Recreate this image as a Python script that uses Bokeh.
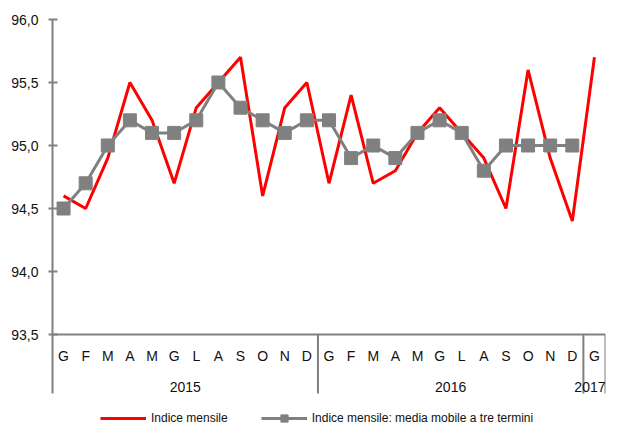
from bokeh.plotting import figure
from bokeh.models import Range1d, FixedTicker, Legend, LegendItem, ColumnDataSource
from bokeh.embed import file_html
from bokeh.resources import INLINE
from bokeh.core.properties import value

# ---- data ----
months = ["G", "F", "M", "A", "M", "G", "L", "A", "S", "O", "N", "D",
          "G", "F", "M", "A", "M", "G", "L", "A", "S", "O", "N", "D",
          "G"]
years = ["2015", "2016", "2017"]
year_counts = [12, 12, 1]
indice_mensile = [94.6, 94.5, 94.9, 95.5, 95.2, 94.7, 95.3, 95.5, 95.7, 94.6, 95.3, 95.5,
                  94.7, 95.4, 94.7, 94.8, 95.1, 95.3, 95.1, 94.9, 94.5, 95.6, 94.9, 94.4,
                  95.7]
media_mobile = [94.5, 94.7, 95.0, 95.2, 95.1, 95.1, 95.2, 95.5, 95.3, 95.2, 95.1, 95.2,
                95.2, 94.9, 95.0, 94.9, 95.1, 95.2, 95.1, 94.8, 95.0, 95.0, 95.0, 95.0]
y_ticks = [93.5, 94.0, 94.5, 95.0, 95.5, 96.0]
y_tick_labels = ["93,5", "94,0", "94,5", "95,0", "95,5", "96,0"]

# ---- layout constants (pixels) ----
W, H = 606, 427
LEFT, RIGHT = 52, 1
TOP = 19
K = 126.0           # pixels per unit on y
Y_MAX = 96.0
FONT = "Liberation Sans"
GRAY = "#808080"
TXT = "#111111"


def py2v(py):
    return Y_MAX - (py - TOP) / K


y_min = py2v(H)
axis_bottom = py2v(393)
month_y = py2v(355)
year_y = py2v(386)

n = len(months)
p = figure(width=W, height=H, output_backend="svg", toolbar_location=None,
           x_range=Range1d(0, n), y_range=Range1d(y_min, Y_MAX),
           min_border_left=LEFT, min_border_right=RIGHT,
           min_border_top=TOP, min_border_bottom=0,
           x_axis_location=None)
p.outline_line_color = None
p.grid.visible = False
p.background_fill_color = "white"
p.border_fill_color = "white"

ax = p.yaxis[0]
ax.ticker = FixedTicker(ticks=y_ticks)
ax.major_label_overrides = {t: l for t, l in zip(y_ticks, y_tick_labels)}
ax.bounds = (axis_bottom, Y_MAX)
ax.axis_line_color = GRAY
ax.axis_line_width = 2
ax.major_tick_line_color = GRAY
ax.major_tick_line_width = 2
ax.major_tick_in = 5
ax.major_tick_out = 4
ax.minor_tick_line_color = None
ax.major_label_standoff = 10
ax.major_label_text_font = FONT
ax.major_label_text_font_size = "14px"
ax.major_label_text_color = TXT

# horizontal baseline at bottom of value range
p.segment(x0=[0], y0=[y_ticks[0]], x1=[n], y1=[y_ticks[0]], line_color=GRAY, line_width=2)

# year separators
bounds = []
acc = 0
for c in year_counts:
    acc += c
    bounds.append(acc)
p.segment(x0=bounds, y0=[y_ticks[0]] * len(bounds), x1=bounds, y1=[axis_bottom] * len(bounds),
          line_color=GRAY, line_width=2)

# month labels
xs = [i + 0.5 for i in range(n)]
p.text(x=xs, y=[month_y] * n, text=months, text_font=value(FONT), text_font_size="14px",
       text_align="center", text_baseline="middle", text_color=TXT)

# year labels (last one right-aligned at the frame edge so it is not clipped)
starts = [b - c for b, c in zip(bounds, year_counts)]
year_x = [s + c / 2 for s, c in zip(starts, year_counts)]
p.text(x=year_x[:-1], y=[year_y] * (len(years) - 1), text=years[:-1], text_font=value(FONT),
       text_font_size="14px", text_align="center", text_baseline="middle", text_color=TXT)
p.text(x=[bounds[-1]], y=[year_y], text=[years[-1]], text_font=value(FONT),
       text_font_size="14px", text_align="right", text_baseline="middle", text_color=TXT)

# series
src_r = ColumnDataSource(dict(x=xs[:len(indice_mensile)], y=indice_mensile))
src_g = ColumnDataSource(dict(x=xs[:len(media_mobile)], y=media_mobile))
r_line = p.line("x", "y", source=src_r, line_color="#FF0000", line_width=3)
g_line = p.line("x", "y", source=src_g, line_color=GRAY, line_width=3)
g_pts = p.scatter("x", "y", source=src_g, marker="square", size=13, fill_color=GRAY, line_color=GRAY)

legend = Legend(items=[
    LegendItem(label="Indice mensile", renderers=[r_line]),
    LegendItem(label="Indice mensile: media mobile a tre termini", renderers=[g_line, g_pts]),
], location=(48, 0), orientation="horizontal", spacing=33,
    glyph_width=46, glyph_height=18, label_height=18, label_standoff=5,
    padding=0, margin=0, border_line_color=None, background_fill_alpha=0,
    label_text_font=FONT, label_text_font_size="12px", label_text_color=TXT)
p.add_layout(legend)

open("out.html", "w").write(file_html(p, INLINE))
